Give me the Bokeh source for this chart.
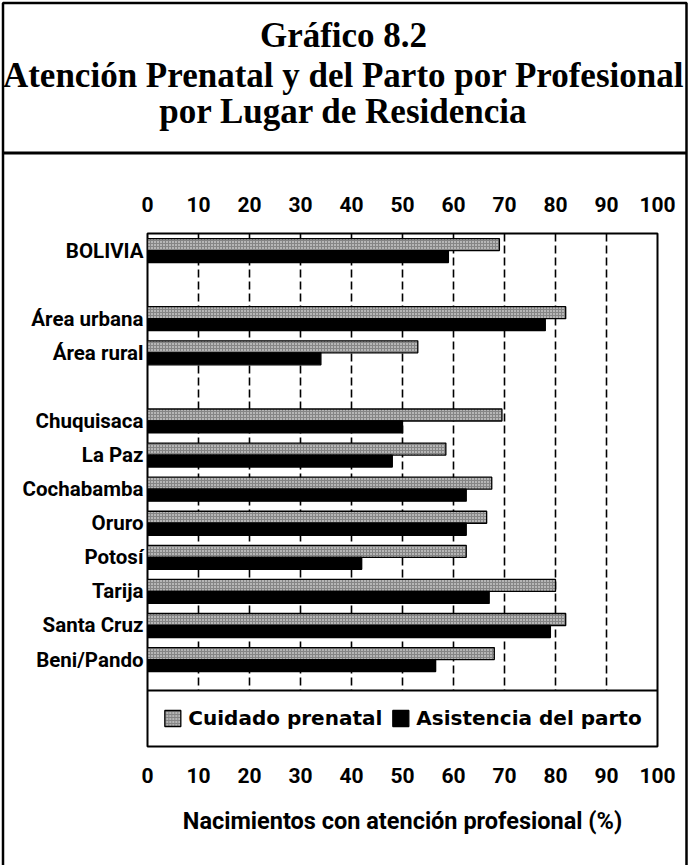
from bokeh.plotting import figure
from bokeh.models import (Range1d, LinearAxis, FixedTicker, Span,
                          Legend, LegendItem)
from bokeh.core.properties import value
from bokeh.embed import file_html
from bokeh.resources import INLINE

# ---------------- data ----------------
groups = [
    ["BOLIVIA"],
    ["Área urbana", "Área rural"],
    ["Chuquisaca", "La Paz", "Cochabamba", "Oruro", "Potosí",
     "Tarija", "Santa Cruz", "Beni/Pando"],
]
categories = [c for g in groups for c in g]
prenatal = [69, 82, 53, 69.5, 58.5, 67.5, 66.5, 62.5, 80, 82, 68]
parto = [59, 78, 34, 50, 48, 62.5, 62.5, 42, 67, 79, 56.5]
x_ticks = [0, 10, 20, 30, 40, 50, 60, 70, 80, 90, 100]

title_lines = ["Gráfico 8.2",
               "Atención Prenatal y del Parto por Profesional",
               "por Lugar de Residencia"]
legend_labels = ["Cuidado prenatal", "Asistencia del parto"]
x_title = "Nacimientos con atención profesional (%)"

# ---------------- layout ----------------
W, H = 689, 865
SANS = "Roboto"
SERIF = "Liberation Serif"
ABS = {"position": "absolute", "left": "0px", "top": "0px"}

# ---- background page: frame, divider and title ----
bg = figure(width=W, height=H, x_range=Range1d(0, W), y_range=Range1d(H, 0),
            output_backend="svg", toolbar_location=None,
            min_border=0, x_axis_location=None, y_axis_location=None,
            outline_line_color=None)
bg.xgrid.visible = False
bg.ygrid.visible = False
bg.styles = dict(ABS)
bg.quad(left=[2.5], right=[686], top=[2.5], bottom=[H + 10],
        fill_alpha=0, line_color="black", line_width=2.5)
bg.segment(x0=[2.5], y0=[152.5], x1=[686], y1=[152.5],
           line_color="black", line_width=3)
bg.text(x=[343, 343, 343], y=[35, 75, 111], text=title_lines,
        text_align="center", text_baseline="alphabetic",
        text_font=value(SERIF), text_font_style="bold",
        text_font_size="35px", text_color="black")

# ---- chart ----
pos = []
k = 0
for g in groups:
    for _ in g:
        pos.append(k)
        k += 1
    k += 1

TOP = -0.5
SEP = 12.91
BOT = 14.55
BH = 0.352

p = figure(width=W, height=H,
           x_range=Range1d(0, 100), y_range=Range1d(BOT, TOP),
           output_backend="svg", toolbar_location=None,
           min_border_left=147, min_border_right=32,
           min_border_top=233, min_border_bottom=119,
           outline_line_color="black", outline_line_width=2,
           background_fill_color="white", border_fill_alpha=0)
p.styles = dict(ABS)
p.xgrid.visible = False
p.ygrid.visible = False

xa = p.xaxis[0]
xa.ticker = FixedTicker(ticks=x_ticks)
xa.axis_line_color = None
xa.major_tick_line_color = None
xa.minor_tick_line_color = None
xa.major_label_standoff = 15
xa.major_label_text_font = SANS
xa.major_label_text_font_style = "bold"
xa.major_label_text_font_size = "21px"
xa.major_label_text_color = "black"
xa.axis_label = x_title
xa.axis_label_text_font = SANS
xa.axis_label_text_font_style = "bold"
xa.axis_label_text_font_size = "23.5px"
xa.axis_label_text_color = "black"
xa.axis_label_standoff = 21

ta = LinearAxis(ticker=FixedTicker(ticks=x_ticks),
                axis_line_color=None, major_tick_line_color=None,
                minor_tick_line_color=None, major_label_standoff=16,
                major_label_text_font=SANS,
                major_label_text_font_style="bold",
                major_label_text_font_size="21px",
                major_label_text_color="black")
p.add_layout(ta, "above")

ya = p.yaxis[0]
ya.ticker = FixedTicker(ticks=pos)
ya.major_label_overrides = {q: c for q, c in zip(pos, categories)}
ya.axis_line_color = None
ya.major_tick_line_color = None
ya.minor_tick_line_color = None
ya.major_label_standoff = -2
ya.major_label_text_font = SANS
ya.major_label_text_font_style = "bold"
ya.major_label_text_font_size = "20.5px"
ya.major_label_text_color = "black"

gx = x_ticks[1:-1]
p.segment(x0=gx, y0=[TOP] * len(gx), x1=gx, y1=[SEP] * len(gx),
          line_color="black", line_width=1.6, line_dash="8 4")

r1 = p.hbar(y=[q - BH / 2 for q in pos], left=0, right=prenatal, height=BH,
            fill_color="#858585", line_color="black", line_width=1.3,
            hatch_pattern="dot", hatch_color="white", hatch_scale=3,
            hatch_weight=0.8)
r2 = p.hbar(y=[q + BH / 2 for q in pos], left=0, right=parto, height=BH,
            fill_color="black", line_color="black", line_width=1.3)

p.add_layout(Span(location=SEP, dimension="width", line_color="black",
                  line_width=2))

legend = Legend(items=[LegendItem(label=legend_labels[0], renderers=[r1]),
                       LegendItem(label=legend_labels[1], renderers=[r2])],
                orientation="horizontal", location="bottom_center",
                margin=16, padding=10, spacing=8, label_standoff=6,
                glyph_width=20, glyph_height=20,
                border_line_color=None, background_fill_alpha=0,
                label_text_font="DejaVu Sans", label_text_font_style="bold",
                label_text_font_size="20px", label_text_color="black")
p.add_layout(legend, "center")

open("out.html", "w").write(file_html([bg, p], INLINE))
